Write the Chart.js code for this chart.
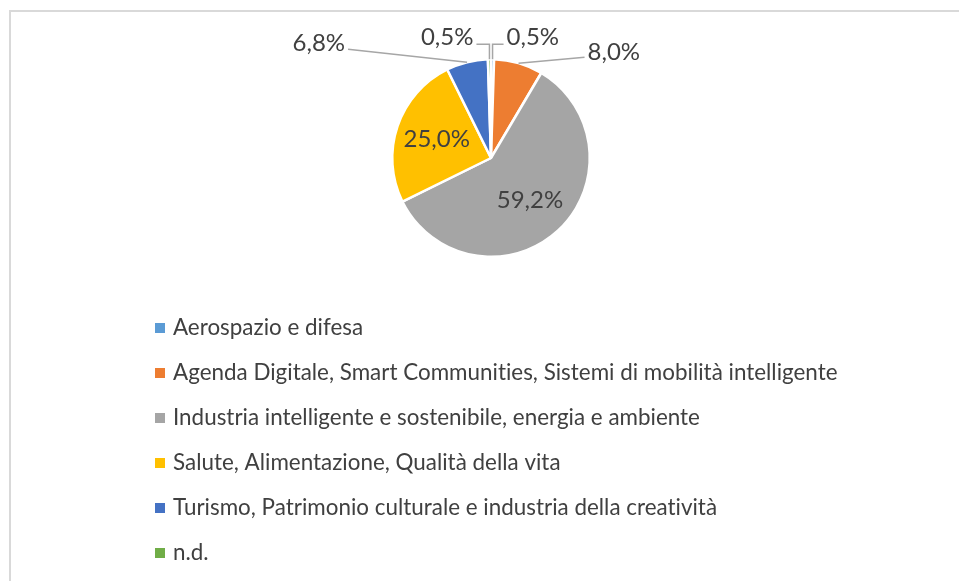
<!DOCTYPE html>
<html>
<head>
<meta charset="utf-8">
<script src="https://cdn.jsdelivr.net/npm/chart.js@4.4.0/dist/chart.umd.min.js"></script>
<style>
  html, body { margin: 0; padding: 0; background: #fff; }
  #wrap { width: 959px; height: 581px; position: relative; }
</style>
</head>
<body>
<div id="wrap"><canvas id="pieChart" width="959" height="581"></canvas></div>
<script>
const categories = [
  'Aerospazio e difesa',
  'Agenda Digitale, Smart Communities, Sistemi di mobilità intelligente',
  'Industria intelligente e sostenibile, energia e ambiente',
  'Salute, Alimentazione, Qualità della vita',
  'Turismo, Patrimonio culturale e industria della creatività',
  'n.d.'
];
const shares = [0.5, 8.0, 59.2, 25.0, 6.8, 0.5];
const sliceColors = ['#5B9BD5', '#ED7D31', '#A5A5A5', '#FFC000', '#4472C4', '#70AD47'];

const FONT = 'Lato, "Noto Sans", sans-serif';
const TEXT = '#404040';
const LEADER = '#A6A6A6';

function fmt(v) {
  return v.toFixed(1).replace('.', ',') + '%';
}

// how each value label is placed: inside the slice, or out on a leader line
const labelPlacement = [
  { kind: 'elbow', rise: 15, run: 11, align: 'left' },
  { kind: 'line', dx: 66, dy: -6, align: 'left', ty: -5 },
  { kind: 'inside', r: 0.58 },
  { kind: 'inside', r: 0.58 },
  { kind: 'line', dx: -119, dy: -13, align: 'right', ty: -6 },
  { kind: 'elbow', rise: 15, run: -13, align: 'right' }
];

const frame = {
  id: 'frame',
  beforeDraw(chart) {
    const c = chart.ctx;
    c.save();
    c.strokeStyle = '#D9D9D9';
    c.lineWidth = 2;
    c.beginPath();
    c.moveTo(10, chart.height);
    c.lineTo(10, 11);
    c.lineTo(chart.width, 11);
    c.stroke();
    c.restore();
  }
};

const valueLabels = {
  id: 'valueLabels',
  afterDatasetsDraw(chart) {
    const c = chart.ctx;
    const meta = chart.getDatasetMeta(0);
    c.save();
    c.font = '24px ' + FONT;
    c.fillStyle = TEXT;
    c.textBaseline = 'middle';
    c.strokeStyle = LEADER;
    c.lineWidth = 1.5;
    meta.data.forEach((arc, i) => {
      const p = arc.getProps(['x', 'y', 'startAngle', 'endAngle', 'outerRadius'], true);
      const mid = (p.startAngle + p.endAngle) / 2;
      const cos = Math.cos(mid), sin = Math.sin(mid);
      const txt = fmt(shares[i]);
      const pl = labelPlacement[i];
      if (pl.kind === 'inside') {
        c.textAlign = 'center';
        c.fillText(txt, p.x + cos * p.outerRadius * pl.r, p.y + sin * p.outerRadius * pl.r);
        return;
      }
      const ex = p.x + cos * p.outerRadius;
      const ey = p.y + sin * p.outerRadius;
      c.beginPath();
      c.moveTo(ex, ey);
      let endX, endY;
      if (pl.kind === 'elbow') {
        c.lineTo(ex, ey - pl.rise);
        endX = ex + pl.run;
        endY = ey - pl.rise;
      } else {
        endX = ex + pl.dx;
        endY = ey + pl.dy;
      }
      c.lineTo(endX, endY);
      c.stroke();
      c.textAlign = pl.align;
      const tx = pl.align === 'left' ? endX + 3 : endX - 3;
      const ty = pl.kind === 'elbow' ? endY - 7 : endY + pl.ty;
      c.fillText(txt, tx, ty);
    });
    c.restore();
  }
};

const sideLegend = {
  id: 'sideLegend',
  afterDraw(chart) {
    const c = chart.ctx;
    c.save();
    c.font = '22.4px ' + FONT;
    // a tiny spacing keeps the "ti" pairs from turning into ligatures
    if ('letterSpacing' in c) c.letterSpacing = '0.01px';
    c.textBaseline = 'middle';
    c.textAlign = 'left';
    categories.forEach((name, i) => {
      const y = 328 + i * 45;
      c.fillStyle = sliceColors[i];
      c.fillRect(155, y - 5, 10, 10);
      c.fillStyle = TEXT;
      c.fillText(name, 173, y);
    });
    c.restore();
  }
};

document.addEventListener('DOMContentLoaded', function () {
  const ctx = document.getElementById('pieChart').getContext('2d');
  new Chart(ctx, {
    type: 'pie',
    data: {
      labels: categories,
      datasets: [{
        data: shares,
        backgroundColor: sliceColors,
        borderColor: '#FFFFFF',
        borderWidth: 2.5
      }]
    },
    options: {
      responsive: false,
      animation: false,
      layout: { padding: { top: 58, bottom: 323, left: 23, right: 0 } },
      plugins: {
        legend: { display: false },
        tooltip: { enabled: false }
      }
    },
    plugins: [frame, valueLabels, sideLegend]
  });
});
</script>
</body>
</html>
